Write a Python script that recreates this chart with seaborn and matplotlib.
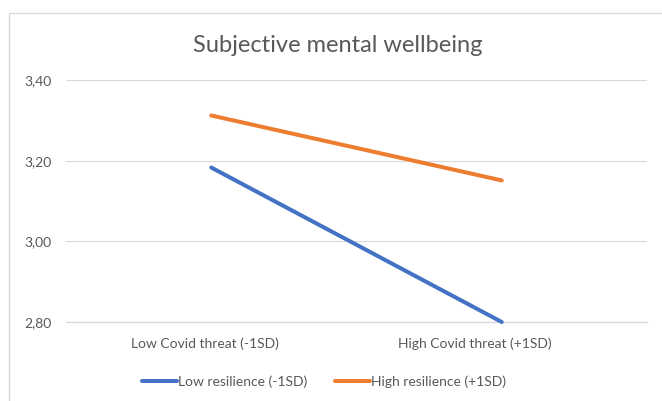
import matplotlib
matplotlib.use("Agg")
import matplotlib.pyplot as plt
import matplotlib.patches as mpatches
from matplotlib.transforms import ScaledTranslation
import pandas as pd
import seaborn as sns

# values
threat_levels = ['Low Covid threat (-1SD)', 'High Covid threat (+1SD)']
low_resilience = [3.183, 2.80]
high_resilience = [3.312, 3.151]
series_names = ['Low resilience (-1SD)', 'High resilience (+1SD)']
y_ticks = [2.80, 3.00, 3.20, 3.40]

df = pd.DataFrame({
    'threat': threat_levels * 2,
    'resilience': [series_names[0]] * 2 + [series_names[1]] * 2,
    'wellbeing': low_resilience + high_resilience,
})

sns.set_style('white')
plt.rcParams['font.family'] = ['Lato', 'DejaVu Sans']

grey_text = '#595959'
grid_col = '#D9D9D9'

fig = plt.figure(figsize=(6.62, 4.01), dpi=100)
ax = fig.add_axes([66 / 662, 1 - 322 / 401, 581 / 662, 242 / 401])

sns.lineplot(data=df, x='threat', y='wellbeing', hue='resilience',
             palette=['#4472C4', '#ED7D31'], linewidth=2.9,
             solid_capstyle='round', sort=False, ax=ax, legend=True)
for line in ax.lines:
    line.set_clip_on(False)
    line.set_zorder(3)

ax.set_xlim(-0.5, 1.5)
ax.set_ylim(2.80, 3.40)
ax.set_yticks(y_ticks)
ax.set_yticklabels([f'{v:.2f}'.replace('.', ',') for v in y_ticks])
ax.set_xticks([0, 1])
ax.set_xticklabels(threat_levels)
ax.set_xlabel('')
ax.set_ylabel('')
ax.yaxis.grid(True, color=grid_col, linewidth=0.8)
ax.set_axisbelow(True)
for side in ['left', 'top', 'right']:
    ax.spines[side].set_visible(False)
ax.spines['bottom'].set_color(grid_col)
ax.spines['bottom'].set_linewidth(1.0)
ax.tick_params(axis='both', length=0, labelsize=10, labelcolor=grey_text)
ax.tick_params(axis='y', pad=10.5)
ax.tick_params(axis='x', pad=11)

# Excel puts the category labels a bit left of the points
for lbl, dx in zip(ax.get_xticklabels(), [-6, -27]):
    lbl.set_transform(lbl.get_transform() + ScaledTranslation(dx / 100, 0, fig.dpi_scale_trans))

handles, labels = ax.get_legend_handles_labels()
ax.get_legend().remove()
fig.legend(handles, labels, loc='center', bbox_to_anchor=(324 / 662, 1 - 382 / 401),
           ncol=2, frameon=False, fontsize=10, labelcolor=grey_text,
           handlelength=2.5, handletextpad=0.1, columnspacing=2.0)

fig.text(338 / 662, 1 - 45 / 401, 'Subjective mental wellbeing', ha='center', va='center',
         fontsize=17, color=grey_text)

# chart area border
fig.patches.append(mpatches.Rectangle((9 / 662, -0.1), 1.2, 1.1 - 13 / 401, transform=fig.transFigure,
                                      fill=False, edgecolor=grid_col, linewidth=1.0))

fig.savefig('out.png', dpi=100)
